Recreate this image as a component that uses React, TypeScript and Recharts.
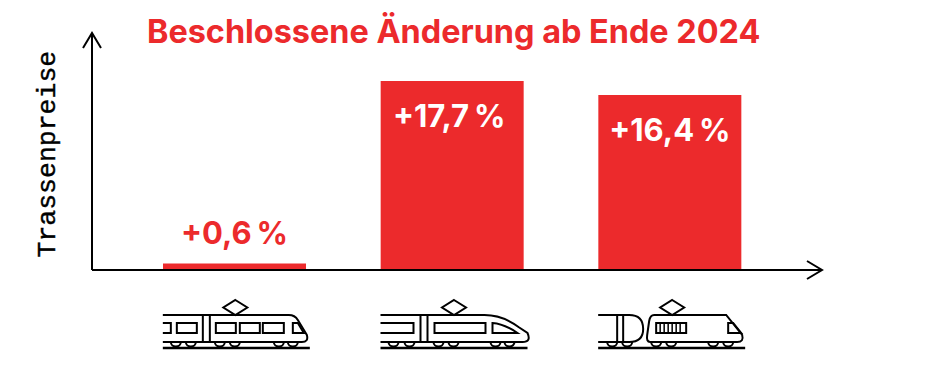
import { BarChart, Bar, Cell, XAxis, YAxis, LabelList } from "recharts";

const trains = ["regional", "fern", "gueter"];
const changes = [0.6, 17.7, 16.4];
const changeLabels = ["+0,6\u2009%", "+17,7\u2009%", "+16,4\u2009%"];
const data = trains.map((train, i) => ({ train, change: changes[i], label: changeLabels[i] }));

const RED = "#ec2a2c";

function wheels(xs: number[]) {
  return xs.map((x) => <path key={x} d={`M${x - 5} 27 A5 4.5 0 0 0 ${x + 5} 27`} />);
}

function TrainIcon({ x, y, payload }: any) {
  const type = payload.value;
  return (
    <g transform={`translate(${x},${y + 37})`} fill="none" stroke="#000" strokeWidth={2}>
      {type === "regional" && (
        <>
          <path d="M0.5 -15 L12.5 -7.5 L0.5 0 L-11.5 -7.5 Z" />
          <path d="M-72 0 H54 Q60 0 63 5 L72 20 Q74 27 67 27 H-72" />
          <path d="M-72 8 H-64 V18 H-72" />
          <path d="M-58 8 H-38 V18 H-58 Z M-19 8 H1 V18 H-19 Z M5 8 H25 V18 H5 Z M28 8 H49 V18 H28 Z" />
          <path d="M-32 0 V27 M-25 0 V27" />
          <path d="M58 8 H63 L69 18 H58 Z" />
          {wheels([-59, -44, -15, 0, 44, 58])}
          <path d="M-72 33 H75" strokeWidth={2.5} />
        </>
      )}
      {type === "fern" && (
        <>
          <path d="M1.5 -15 L13.5 -7.5 L1.5 0 L-10.5 -7.5 Z" />
          <path d="M-72 0 H32 Q50 0 66 12 L75 18 Q79 27 70 27 H-72" />
          <path d="M-72 8 H-39 V18 H-72" />
          <path d="M-18 8 H33 V18 H-18 Z" />
          <path d="M-32 0 V27 M-25 0 V27" />
          <path d="M40 8 Q52 9 65 18 H40 Z" />
          {wheels([-59, -43, -14, 1, 43, 57])}
          <path d="M-72 33 H75" strokeWidth={2.5} />
        </>
      )}
      {type === "gueter" && (
        <>
          <path d="M2 -15 L14 -7.5 L2 0 L-10 -7.5 Z" />
          <path d="M-72 0 H-41 Q-27 0 -27 14 Q-27 27 -41 27 H-72" />
          <path d="M-53 0 V27 M-47 0 V27" />
          <path d="M-16 0 H56 L72 20 Q74 27 67 27 H-20 Q-24 27 -23 20 L-21 6 Q-20 0 -16 0 Z" />
          <path d="M-14 8 H16 V18 H-14 Z" />
          <path d="M-10 8 V18 M-6 8 V18 M-2 8 V18 M2 8 V18 M6 8 V18 M10 8 V18" strokeWidth={1.5} />
          <path d="M58 8 H63 L71 18 H58 Z" />
          {wheels([-58, -43, -14, 1, 43, 58])}
          <path d="M-72 33 H75" strokeWidth={2.5} />
        </>
      )}
    </g>
  );
}

function ChangeLabel({ x, y, width, height, index, value }: any) {
  // der kleine Balken bekommt das Label oben drüber, die großen innen
  const small = height < 40;
  return (
    <text
      x={x + width / 2 + (index === 1 ? -3 : 0)}
      y={small ? y - 20 : y + 46}
      textAnchor="middle"
      fill={small ? RED : "#fff"}
      fontFamily="Inter"
      fontWeight={700}
      fontSize={31}
    >
      {value}
    </text>
  );
}

export default function App() {
  return (
    <div style={{ position: "absolute", left: 0, top: 0, width: 930, height: 382 }}>
      <div
        style={{
          position: "absolute",
          left: 147,
          top: 13,
          color: RED,
          fontFamily: "Inter",
          fontWeight: 700,
          fontSize: 32.4,
          lineHeight: "38px",
          whiteSpace: "nowrap",
        }}
      >
        Beschlossene Änderung ab Ende 2024
      </div>
      <BarChart width={930} height={382} data={data} margin={{ top: 33, right: 108, bottom: 0, left: 0 }}>
        <defs>
          <marker id="arrow" viewBox="0 0 18 20" refX="16" refY="10" markerUnits="userSpaceOnUse" markerWidth="18" markerHeight="20" orient="auto-start-reverse">
            <path d="M1 1 L16 10 L1 19" fill="none" stroke="#000" strokeWidth={2} />
          </marker>
        </defs>
        <XAxis
          dataKey="train"
          height={112}
          padding={{ left: 34, right: 43 }}
          tickLine={false}
          interval={0}
          tick={TrainIcon}
          axisLine={{ stroke: "#000", strokeWidth: 2, markerEnd: "url(#arrow)" }}
        />
        <YAxis
          width={92}
          domain={[0, 22.2]}
          tick={false}
          tickLine={false}
          axisLine={{ stroke: "#000", strokeWidth: 2, markerStart: "url(#arrow)" }}
          label={{
            value: "Trassenpreise",
            angle: -90,
            position: "insideLeft",
            dx: 41,
            dy: 106,
            fill: "#000",
            stroke: "#000",
            strokeWidth: 0.4,
            fontFamily: "Liberation Mono",
            fontSize: 26.5,
          }}
        />
        <Bar dataKey="change" barSize={143} isAnimationActive={false}>
          {data.map((d) => (
            <Cell key={d.train} fill={RED} />
          ))}
          <LabelList dataKey="label" content={ChangeLabel} />
        </Bar>
      </BarChart>
    </div>
  );
}
